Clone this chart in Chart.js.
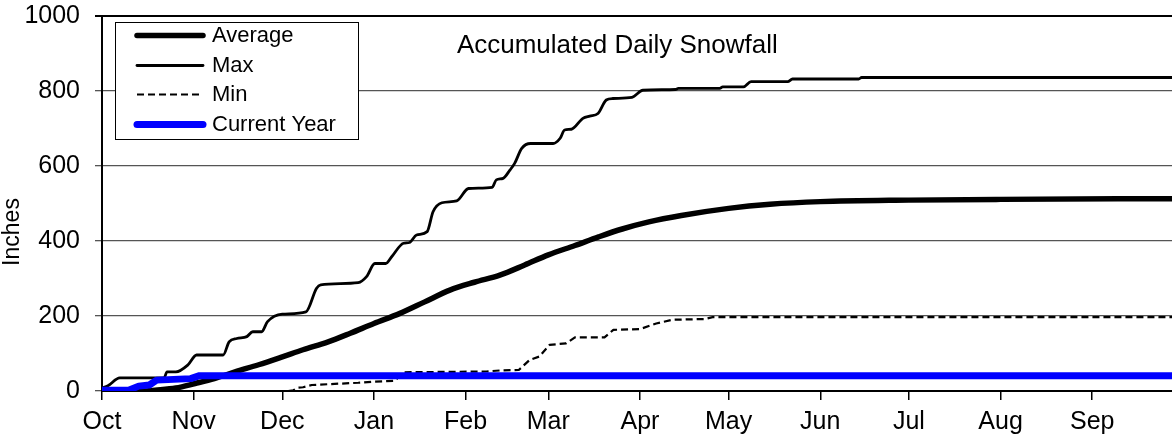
<!DOCTYPE html>
<html><head><meta charset="utf-8">
<script src="https://cdn.jsdelivr.net/npm/chart.js@4/dist/chart.umd.min.js"></script>
<style>html,body{margin:0;padding:0;background:#fff;overflow:hidden}#wrap{width:1172px;height:443px;position:relative}</style>
</head><body><div id="wrap"><canvas id="c"></canvas></div>
<script>
// Day index: 0 = Oct 1
const monthLabels = ['Oct','Nov','Dec','Jan','Feb','Mar','Apr','May','Jun','Jul','Aug','Sep'];
const monthStartDays = [0,31,61,92,123,151,182,212,243,273,304,335];
const yTicks = [0,200,400,600,800,1000];
const chartTitle = 'Accumulated Daily Snowfall';
const yTitle = 'Inches';

const avgDays   = [0,15,18,25,31.5,38,45,53,61,68,76.5,84,92,100.8,109,117.7,126,134.6,143,151,160,168,176,185,196,212,226,243,273,304,365];
const avgInches = [0,0,2,8,20,33,51,70,91,110,131,154,180,207,237,269,290,309,336,363,388,411,432,451,468,487,498,505,509,511,513];

const maxDays   = [0,2,6,21,22,25,29,32,41,43,45.6,49,51,54,56,61,69,72.6,74,86.7,89.5,92.3,96,98,102,104,106.4,110,112,115,120,124,132,133.4,135.7,138,139.6,142,145,152.6,155,156.5,158.8,162.7,165,167.8,170.6,172.8,179.3,183,194,195,209,210,217,219.6,232,233.6,256,257,365];
const maxInches = [8,14,35,35,51,51,69,96,96,131,140,145,158,158,185,205,211,274,283,289,305,340,340,358,394,396,416,425,478,502,507,540,543,563,567,589,607,647,660,660,674,696,698,727,733,740,776,780,783,802,804,807,807,811,811,825,825,832,832,836,836];

const minDays   = [63,64.7,66.4,68,71,86.7,91.8,99,102,130,135,141,144.7,148,151.4,157,160,170,173,182,187.5,193,204,206.6,365];
const minInches = [0,2,9,10,16,22,25,27,50,52,55,56,83,92,123,127,143,143,163,165,180,190,192,197,197];

const curDays   = [0,9,12.4,16,18.5,30,33,365];
const curInches = [2,2,13,16,29,33,41,41];

const pts = (xs, ys) => xs.map((d, i) => ({x: d, y: ys[i]}));

Chart.defaults.font.family = '"Liberation Sans", Arial, sans-serif';
Chart.defaults.color = '#000';

const overlay = {
  id: 'overlay',
  afterDraw(chart) {
    const ctx = chart.ctx, a = chart.chartArea;
    ctx.save();
    ctx.fillStyle = '#000';
    ctx.textAlign = 'center';
    ctx.textBaseline = 'middle';
    ctx.font = '26px "Liberation Sans", Arial, sans-serif';
    ctx.fillText(chartTitle, a.left + (a.right - a.left) * 0.4816, a.top + 30);
    // y title
    ctx.save();
    ctx.translate(13, a.top + (a.bottom - a.top) * 0.576);
    ctx.rotate(-Math.PI / 2);
    ctx.font = '23px "Liberation Sans", Arial, sans-serif';
    ctx.fillText(yTitle, 0, 0);
    ctx.restore();
    // legend
    const bx = a.left + 13, by = a.top + 6, bw = 243, bh = 117;
    ctx.fillStyle = '#fff';
    ctx.fillRect(bx, by, bw, bh);
    ctx.strokeStyle = '#000';
    ctx.lineWidth = 1;
    ctx.strokeRect(bx + 0.5, by + 0.5, bw, bh);
    ctx.font = '22px "Liberation Sans", Arial, sans-serif';
    ctx.textAlign = 'left';
    chart.data.datasets.forEach((ds, i) => {
      const y = by + 13 + i * 29.7;
      ctx.save();
      ctx.strokeStyle = ds.borderColor;
      ctx.lineWidth = ds.borderWidth;
      ctx.lineCap = ds.borderDash ? 'butt' : 'round';
      ctx.setLineDash(ds.borderDash || []);
      ctx.beginPath();
      ctx.moveTo(bx + 22, Math.round(y) + 0.5);
      ctx.lineTo(bx + 88, Math.round(y) + 0.5);
      ctx.stroke();
      ctx.restore();
      ctx.fillStyle = '#000';
      ctx.fillText(ds.label, bx + 97, y + 1);
    });
    ctx.restore();
  }
};

new Chart(document.getElementById('c'), {
  type: 'line',
  data: {
    datasets: [
      {label: 'Average', data: pts(avgDays, avgInches), borderColor: '#000', borderWidth: 5.5, order: 1, cubicInterpolationMode: 'monotone'},
      {label: 'Max', data: pts(maxDays, maxInches), borderColor: '#000', borderWidth: 2.8, order: 2, cubicInterpolationMode: 'monotone'},
      {label: 'Min', data: pts(minDays, minInches), borderColor: '#000', borderWidth: 2.2, borderDash: [7, 4], order: 3},
      {label: 'Current Year', data: pts(curDays, curInches), borderColor: '#0000ff', borderWidth: 7, order: 0}
    ]
  },
  options: {
    responsive: true,
    maintainAspectRatio: false,
    animation: false,
    elements: {point: {radius: 0}, line: {tension: 0, borderJoinStyle: 'round', fill: false}},
    layout: {padding: {top: 16, left: 0, right: 0, bottom: 0}},
    plugins: {legend: {display: false}, tooltip: {enabled: false}, title: {display: false}},
    scales: {
      x: {
        type: 'linear', min: 0, max: 362,
        afterBuildTicks: s => { s.ticks = monthStartDays.map(v => ({value: v})); },
        afterFit: s => { s.height = 52; s.paddingLeft = 0; s.paddingRight = 0; },
        ticks: {autoSkip: false, maxRotation: 0, padding: 7, font: {size: 25},
          callback: v => monthLabels[monthStartDays.indexOf(v)]},
        grid: {drawOnChartArea: false, drawTicks: true, tickLength: 9, color: '#000', lineWidth: 1.5},
        border: {display: true, color: '#000', width: 2}
      },
      y: {
        min: 0, max: 1000,
        afterBuildTicks: s => { s.ticks = yTicks.map(v => ({value: v})); },
        afterFit: s => { s.width = 102; s.paddingTop = 0; s.paddingBottom = 0; },
        ticks: {padding: 15, font: {size: 25}, callback: v => String(v)},
        grid: {
          drawTicks: true, tickLength: 7,
          color: c => c.tick && c.tick.value === 1000 ? '#000' : '#555',
          lineWidth: c => c.tick && c.tick.value === 1000 ? 2 : 1.3
        },
        border: {display: true, color: '#000', width: 2}
      }
    }
  },
  plugins: [overlay]
});
</script></body></html>
